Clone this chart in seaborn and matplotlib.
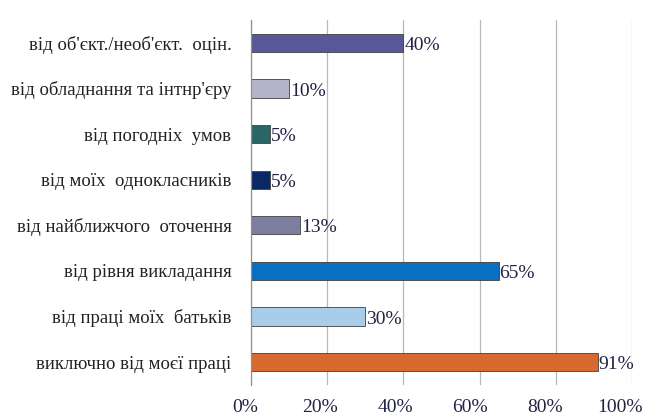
import pandas as pd
import seaborn as sns
import matplotlib.pyplot as plt
import matplotlib.transforms as mtransforms

categories = [
    "від об'єкт./необ'єкт.  оцін.",
    "від обладнання та інтнр'єру",
    "від погодніх  умов",
    "від моїх  однокласників",
    "від найближчого  оточення",
    "від рівня викладання",
    "від праці моїх  батьків",
    "виключно від моєї праці",
]
values = [40, 10, 5, 5, 13, 65, 30, 91]
colors = ["#57579a", "#b4b4c8", "#2c6664", "#0b2866", "#7e7e9e", "#0a6fc2", "#a9cde9", "#d76a2e"]
xticks = [0, 20, 40, 60, 80, 100]

df = pd.DataFrame({"cat": categories, "val": values})

sns.set_style("white")
plt.rcParams['font.family'] = ['Liberation Serif', 'DejaVu Serif']

fig = plt.figure(figsize=(6.45, 4.17), dpi=100)
ax = fig.add_axes([0.389, 0.077, 0.591, 0.875])

sns.barplot(data=df, y="cat", x="val", hue="cat", palette=colors,
            orient="h", width=0.4, legend=False, ax=ax, saturation=1,
            edgecolor="#404040", linewidth=0.6)

for i, v in enumerate(values):
    ax.text(v + 0.2, i + 0.06, f"{v}%", va="center", ha="left",
            fontsize=14, color="#222244")

ax.set_xlim(0, 100)
ax.set_ylim(len(categories) - 0.5, -0.5)
ax.set_xticks(xticks)
ax.set_xticklabels([])
# x labels sit a bit left of the gridlines (the 3D front edge)
base = ax.get_xaxis_transform()
for t in xticks:
    off = mtransforms.ScaledTranslation(-(6 + t * 0.06) / 100, -0.14, fig.dpi_scale_trans)
    ax.text(t, 0, f"{t}%", transform=base + off, ha="center", va="top",
            fontsize=14, color="#222244")
ax.set_yticks(range(len(categories)))
ax.set_yticklabels(categories, fontsize=13.5, color="#222222")
ax.set_yticks([i - 0.5 for i in range(len(categories) + 1)], minor=True)
ax.tick_params(axis="y", which="major", length=0, pad=14)
ax.tick_params(axis="y", which="minor", length=4, color="#808080", width=0.8)
ax.tick_params(axis="x", length=0)
ax.set_xlabel("")
ax.set_ylabel("")

ax.grid(axis="x", color="#b8b8b8", linewidth=0.9)
ax.set_axisbelow(True)
for s in ["top", "right", "bottom"]:
    ax.spines[s].set_visible(False)
ax.spines["left"].set_color("#909090")
ax.spines["left"].set_linewidth(0.9)

fig.savefig("out.png", dpi=100)
